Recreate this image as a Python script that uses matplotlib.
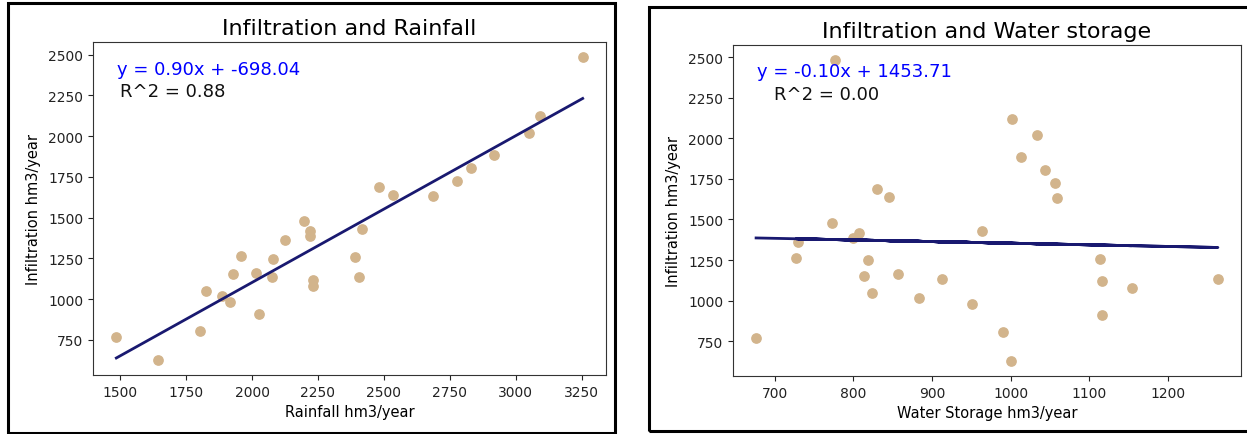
import matplotlib
matplotlib.use("Agg")
import matplotlib.pyplot as plt
from matplotlib.patches import Rectangle
import numpy as np

# Annual series (hm3/year)
rainfall = [1485, 1643, 1801, 1824, 1887, 1917, 1929, 1958, 2015, 2027,
            2075, 2080, 2125, 2197, 2221, 2221, 2230, 2230, 2389, 2407,
            2417, 2482, 2535, 2685, 2779, 2831, 2919, 3051, 3092, 3254]
water_storage = [676, 1000, 990, 824, 883, 951, 814, 727, 857, 1117,
                 913, 818, 729, 773, 807, 799, 1117, 1154, 1114, 1264,
                 963, 830, 845, 1059, 1057, 1044, 1013, 1034, 1002, 777]
infiltration = [767, 627, 805, 1047, 1016, 981, 1153, 1264, 1162, 908,
                1135, 1247, 1360, 1479, 1417, 1387, 1119, 1080, 1256, 1133,
                1432, 1687, 1640, 1632, 1724, 1806, 1884, 2021, 2121, 2484]

# Linear fit results
rain_slope, rain_intercept, rain_r2 = 0.90, -698.04, 0.88
storage_slope, storage_intercept, storage_r2 = -0.10, 1453.71, 0.00

W, H = 1247, 435
fig = plt.figure(figsize=(W / 100, H / 100), dpi=100)


def px_rect(x0, y0, x1, y1):
    return [x0 / W, 1 - y1 / H, (x1 - x0) / W, (y1 - y0) / H]


def panel(rect, x, y, slope, intercept, r2, title, xlabel, r2_dx):
    ax = fig.add_axes(px_rect(*rect))
    x = np.asarray(x, dtype=float)
    y = np.asarray(y, dtype=float)
    ax.scatter(x, y, s=45, color="tan", zorder=2)
    ax.plot(x, slope * x + intercept, color="midnightblue", lw=2.0, zorder=3)
    ax.set_title(title, fontsize=16)
    ax.set_xlabel(xlabel, fontsize=10.5)
    ax.set_ylabel("Infiltration hm3/year", fontsize=10.5, labelpad=5)
    ax.tick_params(labelsize=10, colors="#222222")
    ax.set_yticks([750, 1000, 1250, 1500, 1750, 2000, 2250, 2500])
    for s in ax.spines.values():
        s.set_color("#333333")
    ax.text(0.047, 0.92, f"y = {slope:.2f}x + {intercept:.2f}",
            transform=ax.transAxes, color="blue", fontsize=13,
            ha="left", va="center")
    ax.text(0.047 + r2_dx, 0.853, f"R^2 = {r2:.2f}",
            transform=ax.transAxes, color="#111111", fontsize=13,
            ha="left", va="center")
    return ax


panel((93, 43, 606, 376), rainfall, infiltration, rain_slope, rain_intercept,
      rain_r2, "Infiltration and Rainfall", "Rainfall hm3/year", 0.006)
panel((733, 46, 1241, 377), water_storage, infiltration, storage_slope,
      storage_intercept, storage_r2, "Infiltration and Water storage",
      "Water Storage hm3/year", 0.033)

# Black frames around each panel
for x0, y0, x1, y1 in [(8, 4, 615, 434), (649, 8, 1250, 432)]:
    fig.add_artist(Rectangle((x0 / W, 1 - y1 / H), (x1 - x0) / W, (y1 - y0) / H,
                             transform=fig.transFigure, fill=False,
                             edgecolor="black", lw=2.2))

fig.savefig("out.png", dpi=100)
